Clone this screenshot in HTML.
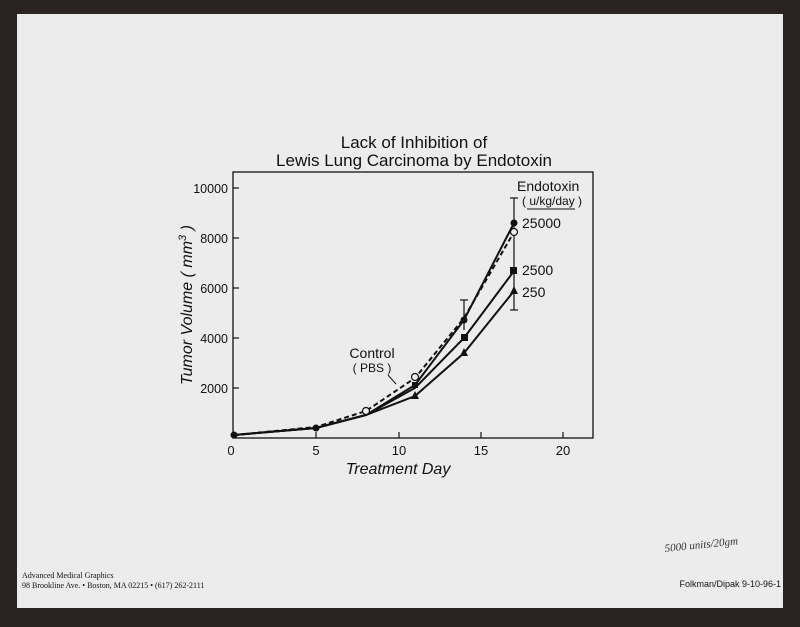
<!DOCTYPE html>
<html><head><style>
body{margin:0;width:800px;height:622px;background:#2b2322;overflow:hidden;font-family:"Liberation Sans",sans-serif}
</style></head><body>
<svg width="800" height="622" xmlns="http://www.w3.org/2000/svg" font-family="Liberation Sans, sans-serif">
<rect x="0" y="0" width="800" height="622" fill="#2b2322"/>
<rect x="17" y="14" width="766" height="594" fill="#ececec"/>
<text x="414" y="148" font-size="17" text-anchor="middle" fill="#111">Lack of Inhibition of</text>
<text x="414" y="166" font-size="17" text-anchor="middle" fill="#111">Lewis Lung Carcinoma by Endotoxin</text>
<rect x="233" y="172" width="360" height="266" fill="none" stroke="#111" stroke-width="1.3"/>
<g stroke="#111" stroke-width="1.2">
<line x1="316" y1="438" x2="316" y2="432"/><line x1="399" y1="438" x2="399" y2="432"/><line x1="481" y1="438" x2="481" y2="432"/><line x1="563" y1="438" x2="563" y2="432"/>
<line x1="233" y1="188" x2="239" y2="188"/><line x1="233" y1="238" x2="239" y2="238"/><line x1="233" y1="288" x2="239" y2="288"/><line x1="233" y1="338" x2="239" y2="338"/><line x1="233" y1="388" x2="239" y2="388"/>
</g>
<g font-size="13" fill="#111" text-anchor="middle">
<text x="231" y="455">0</text><text x="316" y="455">5</text><text x="399" y="455">10</text><text x="481" y="455">15</text><text x="563" y="455">20</text>
</g>
<g font-size="12.5" fill="#111" text-anchor="end">
<text x="228" y="193">10000</text><text x="228" y="243">8000</text><text x="228" y="293">6000</text><text x="228" y="343">4000</text><text x="228" y="393">2000</text>
</g>
<text x="398" y="474" font-size="16" font-style="italic" text-anchor="middle" fill="#111">Treatment Day</text>
<text transform="translate(192,305) rotate(-90)" font-size="16" font-style="italic" text-anchor="middle" fill="#111">Tumor Volume ( mm<tspan font-size="11" dy="-6">3</tspan><tspan dy="6"> )</tspan></text>
<g fill="none" stroke="#111" stroke-width="2">
<polyline points="234,435 316,427 366,411 415,378 464,318 514,232" stroke-dasharray="5,3"/>
<polyline points="234,435 316,428 366,415 415,385 464,320 514,223"/>
<polyline points="234,435 316,428 366,415 415,388 464,338 514,271"/>
<polyline points="234,435 316,428 366,415 415,396 464,353 514,291"/>
</g>
<g stroke="#111" stroke-width="1.2">
<line x1="514" y1="198" x2="514" y2="310"/><line x1="510" y1="198" x2="518" y2="198"/><line x1="510" y1="310" x2="518" y2="310"/>
<line x1="464" y1="300" x2="464" y2="330"/><line x1="460" y1="300" x2="468" y2="300"/>
<line x1="366" y1="407" x2="366" y2="415"/>
</g>
<g fill="#111">
<circle cx="234" cy="435" r="3.5"/><circle cx="316" cy="428" r="3.5"/>
<circle cx="514" cy="223" r="3.5"/><circle cx="464" cy="320" r="3.5"/><circle cx="415" cy="385" r="3"/>
<rect x="510" y="267" width="7" height="7"/><rect x="461" y="334" width="7" height="7"/><rect x="412" y="382" width="6" height="6"/>
<polygon points="514,286 518,294 510,294"/><polygon points="464,348 468,356 460,356"/><polygon points="415,391 419,399 411,399"/>
</g>
<circle cx="514" cy="232" r="3.5" fill="#ececec" stroke="#111" stroke-width="1.2"/>
<circle cx="415" cy="377" r="3.5" fill="#ececec" stroke="#111" stroke-width="1.2"/>
<circle cx="366" cy="411" r="3.5" fill="#ececec" stroke="#111" stroke-width="1.2"/>
<g fill="#111">
<text x="517" y="191" font-size="14">Endotoxin</text>
<text x="522" y="205" font-size="12">( u/kg/day )</text>
<line x1="527" y1="209" x2="575" y2="209" stroke="#111"/>
<text x="522" y="228" font-size="14">25000</text>
<text x="522" y="275" font-size="14">2500</text>
<text x="522" y="297" font-size="14">250</text>
<text x="372" y="358" font-size="14" text-anchor="middle">Control</text>
<text x="372" y="372" font-size="12" text-anchor="middle">( PBS )</text>
</g>
<line x1="388" y1="375" x2="396" y2="384" stroke="#111"/>
<text x="22" y="578" font-size="8" font-family="Liberation Serif, serif" fill="#111">Advanced Medical Graphics</text>
<text x="22" y="588" font-size="8" font-family="Liberation Serif, serif" fill="#111">98 Brookline Ave. • Boston, MA 02215 • (617) 262-2111</text>
<text x="781" y="587" font-size="9" text-anchor="end" fill="#111">Folkman/Dipak 9-10-96-1</text>
<text x="665" y="552" font-size="11" font-style="italic" font-family="Liberation Serif, serif" fill="#333" transform="rotate(-6 665 552)">5000 units/20gm</text>
</svg>
</body></html>
